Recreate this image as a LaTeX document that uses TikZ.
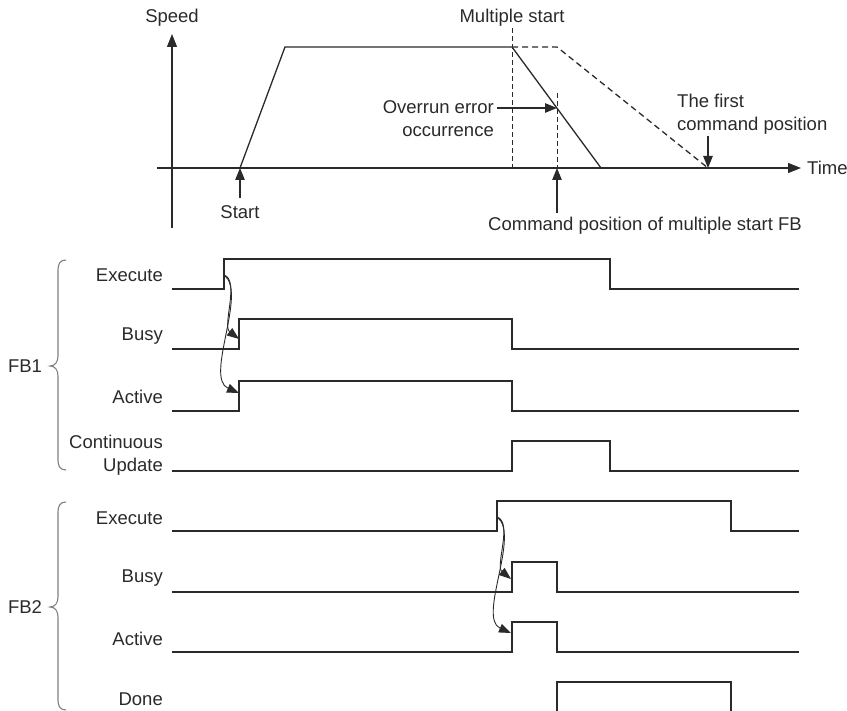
\documentclass[tikz,border=0pt]{standalone}
\usepackage{fontspec}
\setmainfont{Liberation Sans}
\usetikzlibrary{arrows.meta}
\definecolor{ink}{HTML}{2A2A2A}
\definecolor{bracegray}{HTML}{808080}
\begin{document}
\begin{tikzpicture}[x=1pt,y=-1pt,
  every node/.style={font=\fontsize{18.5}{23}\selectfont, text=ink, inner sep=0pt},
  wave/.style={draw=ink, line width=1.5pt},
  axisline/.style={draw=ink, line width=1.2pt, -{Triangle[length=13pt,width=10pt]}},
  prof/.style={draw=ink, line width=1.3pt},
  dashprof/.style={draw=ink, line width=1.3pt, dash pattern=on 6pt off 4pt},
  vdash/.style={draw=ink, line width=1pt, dash pattern=on 5pt off 3pt},
  pointer/.style={draw=ink, line width=1.1pt, -{Triangle[length=12pt,width=9.5pt]}},
  cause/.style={draw=ink, line width=0.9pt, -{Triangle[length=12pt,width=9pt]}},
  lbl/.style={anchor=east},
  brc/.style={draw=bracegray, line width=1.1pt}]
\useasboundingbox (0,0) rectangle (847,711);

% ---------- speed chart ----------
\draw[axisline] (172,228) -- (172,34);
\draw[axisline] (157,168) -- (801,168);
\node (speed) at (172,18) {Speed};
\node[anchor=west] (time) at (807,168) {Time};
\node (mstart) at (512,18) {Multiple start};

\coordinate (p0) at (240,168);
\coordinate (p1) at (285,47);
\coordinate (p2) at (512,47);
\coordinate (p3) at (601,168);
\coordinate (q1) at (557,47);
\coordinate (q2) at (708,168);
\draw[prof] (p0) -- (p1) -- (p2) -- (p3);
\draw[dashprof] (p2) -- (q1) -- (q2);
\draw[vdash] (512,28) -- (512,168);
\draw[vdash] (557,93) -- (557,168);

\node[anchor=east, align=right] (overrun) at (494,119) {Overrun error\\occurrence};
\coordinate (ovr) at (557,108);
\draw[pointer] (497,108) -- (ovr);

\node[anchor=west, align=left] (first) at (677,114.5) {The first\\command position};
\draw[pointer] (708,136) -- (q2);

\node (start) at (240,212) {Start};
\draw[pointer] (240,198) -- (p0);

\node (cmd) at (645,226) {Command position of multiple start FB};
\coordinate (cpos) at (557,168);
\draw[pointer] (557,213) -- (cpos);

% ---------- FB1 ----------
\node (fb1) at (25,366) {FB1};
\draw[brc] (66,260) .. controls (60,260) and (58,264) .. (58,270) -- (58,356)
  .. controls (58,362) and (55,366) .. (50,366)
  .. controls (55,366) and (58,370) .. (58,376) -- (58,460)
  .. controls (58,466) and (60,470) .. (66,470);

\node[lbl] (ex1) at (163,275) {Execute};
\node[lbl] (bu1) at (163,336) {Busy};
\node[lbl] (ac1) at (163,397) {Active};
\node[lbl, align=right] (cu1) at (163,455.5) {Continuous\\Update};

\draw[wave] (172,289) -| (224,259) -| (610,289) -- (799,289);
\draw[wave] (172,349) -| (239,319) -| (512,349) -- (799,349);
\draw[wave] (172,411) -| (239,381) -| (512,411) -- (799,411);
\draw[wave] (172,471) -| (512,441) -| (610,471) -- (799,471);

\coordinate (e1) at (224,275);
\coordinate (b1) at (239,339);
\coordinate (a1) at (239,393);
\draw[cause] (e1) .. controls (240,280) and (222,326) .. (b1);
\draw[cause] (e1) .. controls (248,292) and (204,378) .. (a1);

% ---------- FB2 ----------
\node (fb2) at (25,607) {FB2};
\draw[brc] (66,502) .. controls (60,502) and (58,506) .. (58,512) -- (58,597)
  .. controls (58,603) and (55,607) .. (50,607)
  .. controls (55,607) and (58,611) .. (58,617) -- (58,700)
  .. controls (58,706) and (60,710) .. (66,710);

\node[lbl] (ex2) at (163,518) {Execute};
\node[lbl] (bu2) at (163,578) {Busy};
\node[lbl] (ac2) at (163,639) {Active};
\node[lbl] (dn2) at (163,699) {Done};

\draw[wave] (172,531) -| (497,501) -| (731,531) -- (799,531);
\draw[wave] (172,592) -| (512,562) -| (557,592) -- (799,592);
\draw[wave] (172,652) -| (512,622) -| (557,652) -- (799,652);
\draw[wave] (557,711) |- (731,682) -- (731,711);

\coordinate (e2) at (497,517);
\coordinate (b2) at (511,579);
\coordinate (a2) at (511,633);
\draw[cause] (e2) .. controls (513,522) and (495,566) .. (b2);
\draw[cause] (e2) .. controls (521,534) and (477,618) .. (a2);
\end{tikzpicture}
\end{document}
